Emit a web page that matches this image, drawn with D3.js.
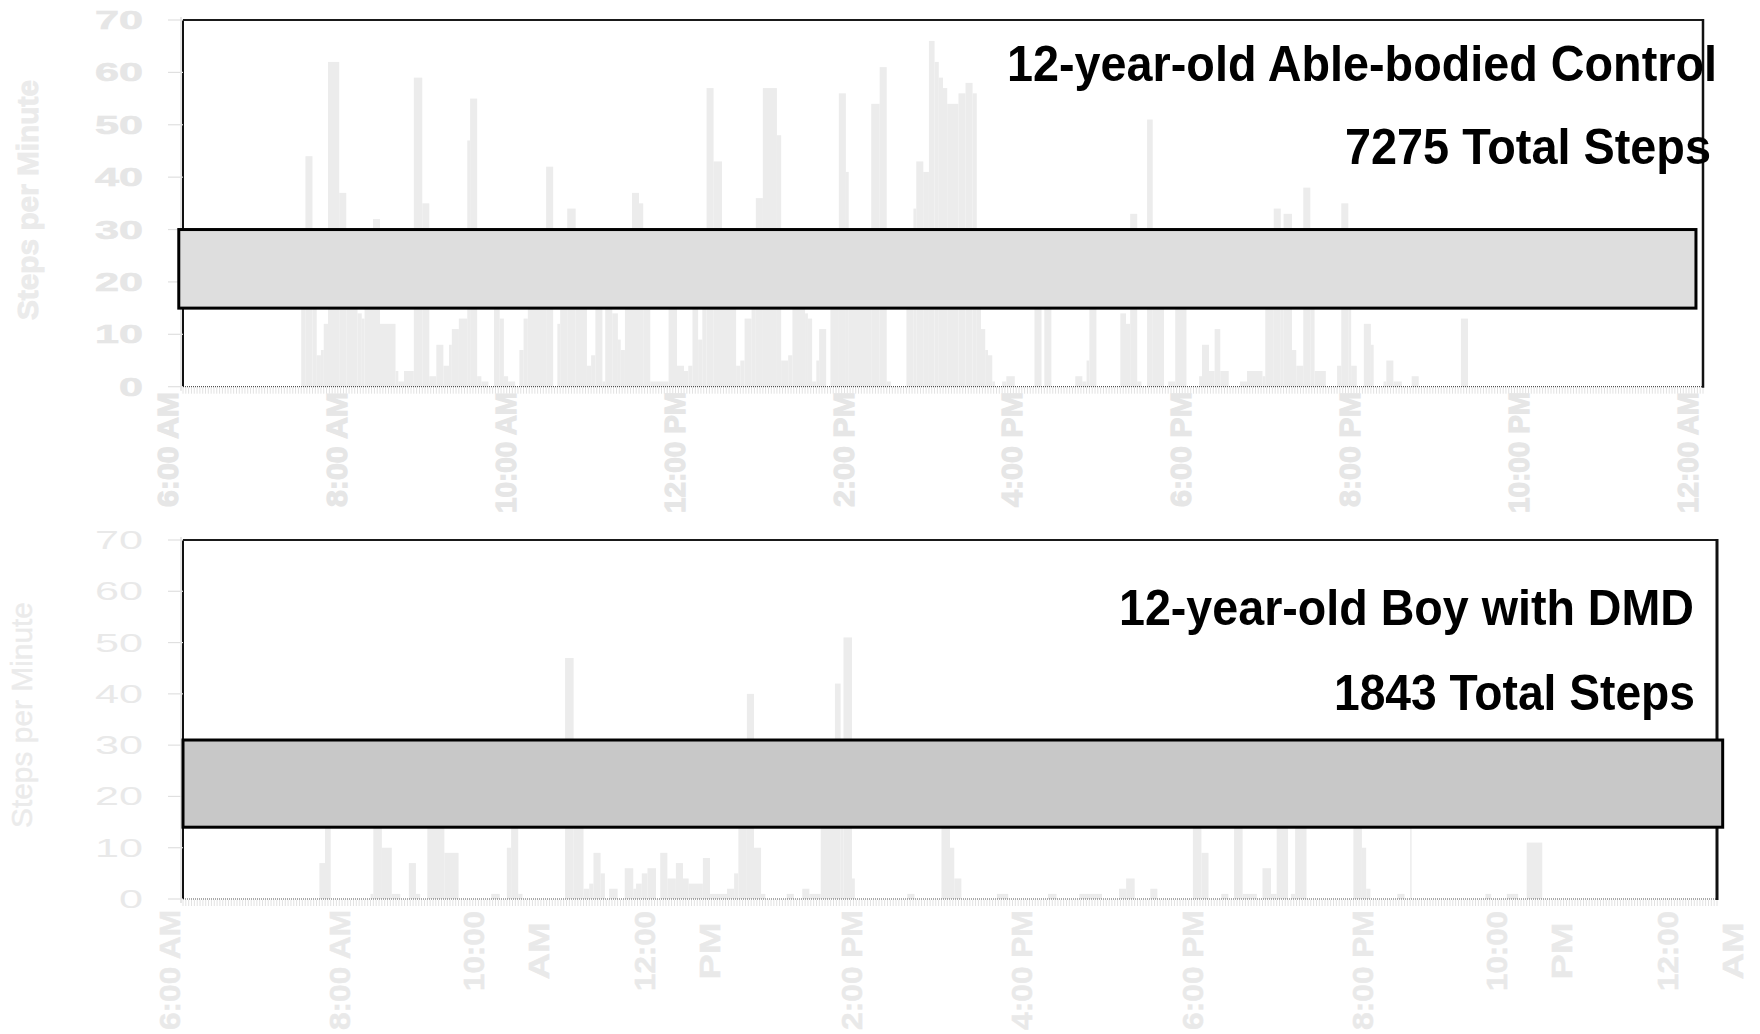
<!DOCTYPE html>
<html><head><meta charset="utf-8">
<script src="https://cdn.jsdelivr.net/npm/d3@7"></script>
<style>html,body{margin:0;padding:0;background:#fff;}svg{display:block}</style>
</head><body>
<svg id="chart" width="1760" height="1034"></svg>
<script>
// ---------- DATA (minutes after 6:00 AM where the level starts, steps per minute) ----------
const controlTimes = [0,84,87,92,95,98,100,103,111,116,124,127,129,135,140,151,153,157,164,170,175,180,185,189,191,196,202,204,209,212,217,221,225,228,231,236,239,242,245,258,263,266,268,273,279,287,290,293,298,300,305,309,311,314,319,324,327,332,345,351,356,359,362,366,369,372,377,383,393,396,399,404,407,412,422,425,430,433,442,444,447,450,452,457,460,466,471,473,481,489,495,500,503,514,519,521,526,530,534,537,540,543,551,556,561,564,567,570,572,575,577,582,585,591,605,610,612,617,634,639,642,644,649,666,670,673,678,681,685,689,697,700,705,713,722,724,729,733,737,743,751,756,767,769,775,780,782,788,791,796,801,804,812,820,823,828,830,834,839,844,846,853,855,860,866,873,878,908,913];
const controlSteps = [0,20,44,18,6,7,12,62,37,22,14,13,16,32,12,3,1,3,59,35,2,8,4,8,11,13,47,55,2,1,0,20,13,2,1,0,7,13,22,42,0,12,25,34,20,4,6,18,1,24,14,9,7,20,37,35,22,1,16,4,3,4,26,9,20,57,43,19,4,5,13,25,36,57,48,5,6,21,14,13,1,5,11,0,23,56,41,27,17,54,61,1,0,18,34,43,41,66,62,59,57,54,56,58,56,20,11,7,6,1,0,1,2,0,20,0,20,0,2,1,5,20,0,14,12,33,1,0,51,20,0,1,20,0,2,8,3,11,3,0,1,3,2,20,34,20,33,7,4,38,20,3,0,4,35,20,4,0,12,8,0,1,5,1,0,2,0,13,0];

const dmdTimes = [0,96,100,104,132,134,140,147,153,159,164,167,172,184,194,217,223,228,231,236,239,269,275,282,286,289,294,297,300,306,311,317,319,323,327,333,336,341,347,352,356,366,371,383,388,391,397,402,407,410,425,430,436,441,449,459,463,465,471,473,510,515,534,540,543,548,573,581,609,615,631,647,659,664,670,681,686,711,717,722,731,736,740,746,756,760,766,770,778,780,783,791,824,830,833,836,855,860,864,865,917,921,932,940,946,957];
const dmdSteps = [0,7,20,0,1,20,10,1,0,7,1,0,20,9,0,1,0,10,20,1,0,47,20,2,3,9,5,0,2,0,6,2,3,5,6,0,9,4,7,4,3,8,1,2,5,20,40,10,1,0,1,0,2,1,20,42,20,51,4,0,1,0,20,10,4,0,1,0,1,0,1,0,2,4,0,2,0,20,9,0,1,0,20,1,0,6,1,20,0,1,20,0,20,10,2,0,1,0,18,0,1,0,1,0,11,0];

const dayMinutes = [0, 1080];
const yTicks = [0,10,20,30,40,50,60,70];
const tickMinutes = [0,120,240,360,480,600,720,840,960,1080];
const controlTickLabels = [["6:00 AM"],["8:00 AM"],["10:00 AM"],["12:00 PM"],["2:00 PM"],["4:00 PM"],["6:00 PM"],["8:00 PM"],["10:00 PM"],["12:00 AM"]];
const dmdTickLabels = [["6:00 AM"],["8:00 AM"],["10:00","AM"],["12:00","PM"],["2:00 PM"],["4:00 PM"],["6:00 PM"],["8:00 PM"],["10:00","PM"],["12:00","AM"]];
const panelTitles = ["12-year-old Able-bodied Control","12-year-old Boy with DMD"];
const panelTotals = ["7275 Total Steps","1843 Total Steps"];
const yAxisTitle = "Steps per Minute";
const bandLevels = [[15,30],[14,31]];
const bandMinutes = [[-3,1075],[0,1084]];

// ---------- LAYOUT / STYLE ----------
const FONT = "'Liberation Sans', Arial, Helvetica, sans-serif";
const panels = [
  {times: controlTimes, steps: controlSteps, labels: controlTickLabels, title: panelTitles[0], total: panelTotals[0],
   band: bandLevels[0], bandX: bandMinutes[0], left:183, right:1703, top:20, bottom:386.7,
   bandFill:"#dedede", yWeight:"bold", yStroke:0.6, labelColor:"#e6e6e6", tickLabelTop:392,
   titlePos:{x:1007, y:81, len:710}, totalPos:{x:1345, y:164, len:366},
   axisTitle:{x:38, y:200, len:240, weight:"bold"}, tickOffset:-5, rightStroke:2.5},
  {times: dmdTimes, steps: dmdSteps, labels: dmdTickLabels, title: panelTitles[1], total: panelTotals[1],
   band: bandLevels[1], bandX: bandMinutes[1], left:183, right:1717, top:540, bottom:899,
   bandFill:"#c8c8c8", yWeight:"normal", yStroke:0, labelColor:"#e9e9e9", tickLabelTop:910,
   titlePos:{x:1119, y:625, len:575}, totalPos:{x:1334, y:710, len:361},
   axisTitle:{x:32, y:715, len:226, weight:"normal"}, tickOffset:-3, rightStroke:3}
];

const svg = d3.select("#chart");

panels.forEach((p, pi) => {
  const x = d3.scaleLinear().domain(dayMinutes).range([p.left, p.right]);
  const y = d3.scaleLinear().domain([0,70]).range([p.bottom, p.top]);
  const g = svg.append("g");

  // bars (step levels)
  const bars = p.times.map((t,i) => ({t0:t, t1:(i < p.times.length-1 ? p.times[i+1] : dayMinutes[1]), v:p.steps[i]}))
                      .filter(d => d.v > 0);
  g.selectAll("rect.bar").data(bars).join("rect").attr("class","bar")
    .attr("x", d => x(d.t0)).attr("width", d => x(d.t1) - x(d.t0))
    .attr("y", d => y(d.v)).attr("height", d => y(0) - y(d.v))
    .attr("fill", "#ececec");

  // minor comb ticks under baseline
  g.selectAll("line.comb").data(d3.range(0, 1081, 2)).join("line").attr("class","comb")
    .attr("x1", d => x(d)).attr("x2", d => x(d))
    .attr("y1", y(0)+1).attr("y2", y(0)+7)
    .attr("stroke", "#e2e2e2").attr("stroke-width", 1);

  // dotted baseline
  g.append("line").attr("x1", x(0)).attr("x2", x(1080)).attr("y1", y(0)).attr("y2", y(0))
    .attr("stroke", "#555").attr("stroke-width", 1.2).attr("stroke-dasharray", "1,1");

  // frame: left, top, right
  g.append("line").attr("x1", x(0)-2).attr("x2", x(0)-2).attr("y1", y(70)-3).attr("y2", y(0)+4)
    .attr("stroke", "#cfcfcf").attr("stroke-width", 1);
  g.append("line").attr("x1", x(0)).attr("x2", x(0)).attr("y1", y(70)).attr("y2", y(0))
    .attr("stroke", "#111").attr("stroke-width", 2);
  g.append("line").attr("x1", x(0)).attr("x2", x(1080)).attr("y1", y(70)).attr("y2", y(70))
    .attr("stroke", "#1a1a1a").attr("stroke-width", 2);
  g.append("line").attr("x1", x(1080)).attr("x2", x(1080)).attr("y1", y(70)-1).attr("y2", y(0)+1)
    .attr("stroke", "#111").attr("stroke-width", p.rightStroke);

  // y ticks and labels
  g.selectAll("line.ytick").data(yTicks).join("line").attr("class","ytick")
    .attr("x1", p.left-15).attr("x2", p.left).attr("y1", d => y(d)).attr("y2", d => y(d))
    .attr("stroke", "#e0e0e0").attr("stroke-width", 1.2);
  g.selectAll("text.ylab").data(yTicks).join("text").attr("class","ylab")
    .attr("x", 143).attr("y", d => y(d)).attr("dy", "0.36em")
    .attr("text-anchor", "end").attr("font-family", FONT).attr("font-size", 25)
    .attr("font-weight", p.yWeight).attr("fill", p.labelColor)
    .attr("stroke", p.labelColor).attr("stroke-width", p.yStroke)
    .attr("textLength", d => String(d).length * 24).attr("lengthAdjust", "spacingAndGlyphs")
    .text(d => d);

  // y axis title
  g.append("text").attr("transform", `translate(${p.axisTitle.x},${p.axisTitle.y}) rotate(-90)`)
    .attr("text-anchor", "middle").attr("font-family", FONT).attr("font-size", 30)
    .attr("font-weight", p.axisTitle.weight).attr("fill", "#ebebeb")
    .attr("stroke", "#ebebeb").attr("stroke-width", pi === 0 ? 1 : 0.4)
    .attr("textLength", p.axisTitle.len).attr("lengthAdjust", "spacingAndGlyphs")
    .text(yAxisTitle);

  // x tick labels (rotated)
  p.labels.forEach((lines, i) => {
    const tx = x(tickMinutes[i]);
    if (lines.length === 1) {
      const long = lines[0].length > 7;
      g.append("text").attr("transform", `translate(${tx + p.tickOffset},${p.tickLabelTop}) rotate(-90)`)
        .attr("text-anchor", "end").attr("font-family", FONT).attr("font-size", 30)
        .attr("font-weight", "bold").attr("fill", p.labelColor)
        .attr("stroke", p.labelColor).attr("stroke-width", pi === 0 ? 1.2 : 0.5)
        .attr("textLength", pi === 0 ? (long ? 121 : 115) : (long ? 124 : 120))
        .attr("lengthAdjust", "spacingAndGlyphs").text(lines[0]);
    } else {
      const offs = [-50 + 10.5, 15 + 10.5];
      const lens = [80, 57];
      lines.forEach((ln, j) => {
        g.append("text").attr("transform", `translate(${tx + offs[j]},951) rotate(-90)`)
          .attr("text-anchor", "middle").attr("font-family", FONT).attr("font-size", 30)
          .attr("font-weight", "bold").attr("fill", p.labelColor)
          .attr("stroke", p.labelColor).attr("stroke-width", 0.5)
          .attr("textLength", lens[j]).attr("lengthAdjust", "spacingAndGlyphs").text(ln);
      });
    }
  });

  // reference band
  g.append("rect").attr("x", x(p.bandX[0])).attr("width", x(p.bandX[1]) - x(p.bandX[0]))
    .attr("y", y(p.band[1])).attr("height", y(p.band[0]) - y(p.band[1]))
    .attr("fill", p.bandFill).attr("stroke", "#000").attr("stroke-width", 3);

  // titles
  g.append("text").attr("x", p.titlePos.x).attr("y", p.titlePos.y)
    .attr("font-family", FONT).attr("font-size", 50).attr("font-weight", "bold").attr("fill", "#000")
    .attr("textLength", p.titlePos.len).attr("lengthAdjust", "spacingAndGlyphs").text(p.title);
  g.append("text").attr("x", p.totalPos.x).attr("y", p.totalPos.y)
    .attr("font-family", FONT).attr("font-size", 50).attr("font-weight", "bold").attr("fill", "#000")
    .attr("textLength", p.totalPos.len).attr("lengthAdjust", "spacingAndGlyphs").text(p.total);
});
</script>
</body></html>
